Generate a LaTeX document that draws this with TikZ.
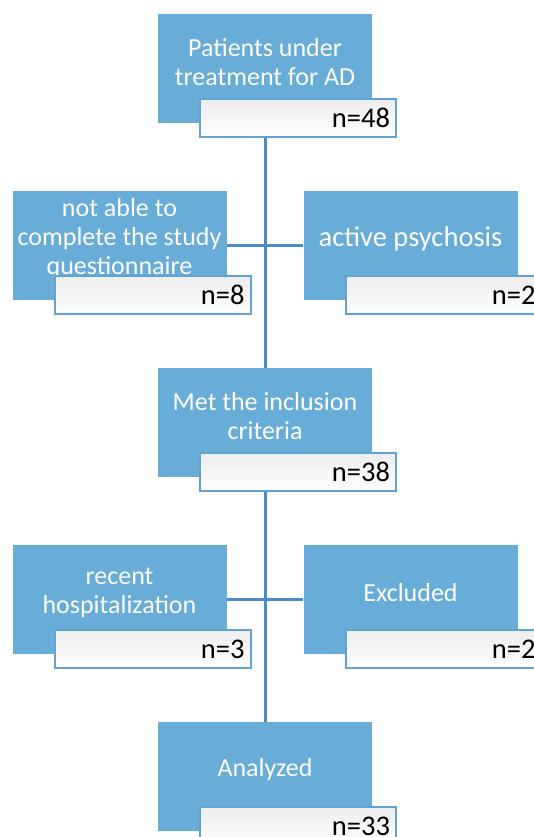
\documentclass[tikz,border=0pt]{standalone}
\usepackage{fontspec}
\setmainfont{Carlito}
\definecolor{boxblue}{RGB}{104,172,216}
\definecolor{edgeblue}{RGB}{96,163,212}
\definecolor{lineblue}{RGB}{74,140,196}
\tikzstyle{stepbox} = [rectangle, minimum width=214pt, minimum height=109pt, inner sep=0pt, fill=boxblue]
\tikzstyle{steptext} = [text=white, align=center, yshift=6.5pt, font=\fontsize{26}{29}\selectfont]
\tikzstyle{countbox} = [rectangle, minimum height=38pt, text width=184pt, inner xsep=6pt, align=right, draw=edgeblue, line width=2pt, top color=black!7, middle color=black!5, bottom color=white, font=\fontsize{28.5}{32}\selectfont]
\tikzstyle{link} = [draw=lineblue, line width=3pt]

\begin{document}
\begin{tikzpicture}[x=1pt, y=1pt, node distance=177pt]
\clip (0,0) rectangle (534,-837);
\node (pat) [stepbox, label={[steptext]center:Patients under\\treatment for AD}] at (265,-68.5) {};
\node (j1) [coordinate, below of=pat] {};
\node (met) [stepbox, below of=j1, label={[steptext]center:Met the inclusion\\criteria}] {};
\node (j2) [coordinate, below of=met] {};
\node (anal) [stepbox, below of=j2, label={[steptext]center:Analyzed}] {};
\node (notable) [stepbox, left of=j1, node distance=145.5pt, label={[steptext]center:not able to\\complete the study\\questionnaire}] {};
\node (psych) [stepbox, right of=j1, node distance=145.5pt, label={[steptext, font=\fontsize{28.5}{32}\selectfont]center:active psychosis}] {};
\node (hosp) [stepbox, left of=j2, node distance=145.5pt, label={[steptext]center:recent\\hospitalization}] {};
\node (excl) [stepbox, right of=j2, node distance=145.5pt, label={[steptext]center:Excluded}] {};

\node (patn) [countbox] at ([shift={(33,-49.5)}]pat.center) {n=48};
\node (notablen) [countbox] at ([shift={(33,-49.5)}]notable.center) {n=8};
\node (psychn) [countbox] at ([shift={(33,-49.5)}]psych.center) {n=2};
\node (metn) [countbox] at ([shift={(33,-49.5)}]met.center) {n=38};
\node (hospn) [countbox] at ([shift={(33,-49.5)}]hosp.center) {n=3};
\node (excln) [countbox] at ([shift={(33,-49.5)}]excl.center) {n=2};
\node (analn) [countbox] at ([shift={(33,-49.5)}]anal.center) {n=33};

\draw [link] (pat |- patn.south) -- (met.north);
\draw [link] (notable.east) -- (psych.west);
\draw [link] (met |- metn.south) -- (anal.north);
\draw [link] (hosp.east) -- (excl.west);
\end{tikzpicture}
\end{document}
